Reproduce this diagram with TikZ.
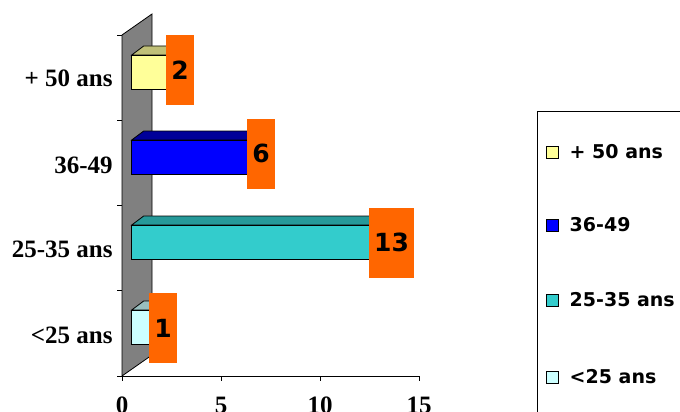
\documentclass[tikz,border=0pt]{standalone}
\usepackage{fontspec}
\setmainfont{Liberation Serif}
\newfontfamily\comicfont{DejaVu Sans}
\usetikzlibrary{positioning}

\definecolor{wallgray}{RGB}{128,128,128}
\definecolor{valorange}{RGB}{255,102,0}
\definecolor{oldfront}{RGB}{255,255,153}
\definecolor{oldtop}{RGB}{192,192,120}
\definecolor{midfront}{RGB}{0,0,255}
\definecolor{midtop}{RGB}{0,0,153}
\definecolor{youngfront}{RGB}{51,204,204}
\definecolor{youngtop}{RGB}{38,153,153}
\definecolor{kidfront}{RGB}{204,255,255}
\definecolor{kidtop}{RGB}{153,191,191}

% one 3d bar: value, top of front face, front colour, top colour
\newcommand{\agebar}[4]{%
  \filldraw[fill=#4] (131.7,#2) -- ++(12,-9) -- ({143.7+19.8*#1},{#2-9}) -- ({131.7+19.8*#1},#2) -- cycle;
  \filldraw[fill=#3] (131.7,#2) rectangle ({131.7+19.8*#1},{#2+34});}

\begin{document}
\begin{tikzpicture}[x=1pt,y=-1pt,line width=0.8pt]
  \tikzstyle{catlabel}=[anchor=base east,inner sep=0pt,font=\fontsize{25}{25}\selectfont\bfseries]
  \tikzstyle{ticklabel}=[anchor=base,inner sep=0pt,font=\fontsize{25}{25}\selectfont\bfseries]
  \tikzstyle{vallabel}=[fill=valorange,minimum height=70pt,inner xsep=5.5pt,font=\comicfont\bfseries\fontsize{25}{25}\selectfont]
  \tikzstyle{legkey}=[draw=black,line width=0.6pt,minimum size=12pt,inner sep=0pt]
  \tikzstyle{legtext}=[inner sep=0pt,font=\comicfont\bfseries\fontsize{19}{19}\selectfont]

  \clip (0,0) rectangle (680,412);
  \useasboundingbox (0,0) rectangle (680,412);

  % back wall and axes
  \draw[fill=wallgray] (122,35) -- (152,14) -- (152,355) -- (122,376) -- cycle;
  \draw (122,376) -- (419,376);
  \foreach \v in {0,5,10,15}
    \draw ({122+19.8*\v},376) -- ++(0,5);
  \foreach \y in {35,120.25,205.5,290.75,376}
    \draw (117,\y) -- (122,\y);

  \node[ticklabel] (t0)  at (122,413) {0};
  \node[ticklabel] (t5)  at (221,413) {5};
  \node[ticklabel] (t10) at (320,413) {10};
  \node[ticklabel] (t15) at (419,413) {15};

  \node[catlabel] (c50)   at (113,87)  {+ 50 ans};
  \node[catlabel] (c3649) at (113,173) {36-49};
  \node[catlabel] (c2535) at (113,257) {25-35 ans};
  \node[catlabel] (c25)   at (113,343) {<25 ans};

  % bars
  \agebar{2}{55}{oldfront}{oldtop}
  \agebar{6}{140}{midfront}{midtop}
  \agebar{13}{225}{youngfront}{youngtop}
  \agebar{1}{310}{kidfront}{kidtop}

  \node[vallabel] (v50)   at (180,70)     {2};
  \node[vallabel] (v3649) at (261,153.5)  {6};
  \node[vallabel] (v2535) at (391.5,242.5) {13};
  \node[vallabel] (v25)   at (163,328)    {1};

  % legend
  \draw[fill=white] (537,111) rectangle (700,430);
  \node[legkey,fill=oldfront]   (k50)   at (552,152) {};
  \node[legkey,fill=midfront]   (k3649) at (552,225) {};
  \node[legkey,fill=youngfront] (k2535) at (552,300) {};
  \node[legkey,fill=kidfront]   (k25)   at (552,377) {};
  \node[legtext,right=11pt of k50]   (l50)   {+ 50 ans};
  \node[legtext,right=11pt of k3649] (l3649) {36-49};
  \node[legtext,right=11pt of k2535] (l2535) {25-35 ans};
  \node[legtext,right=11pt of k25]   (l25)   {<25 ans};
\end{tikzpicture}
\end{document}
